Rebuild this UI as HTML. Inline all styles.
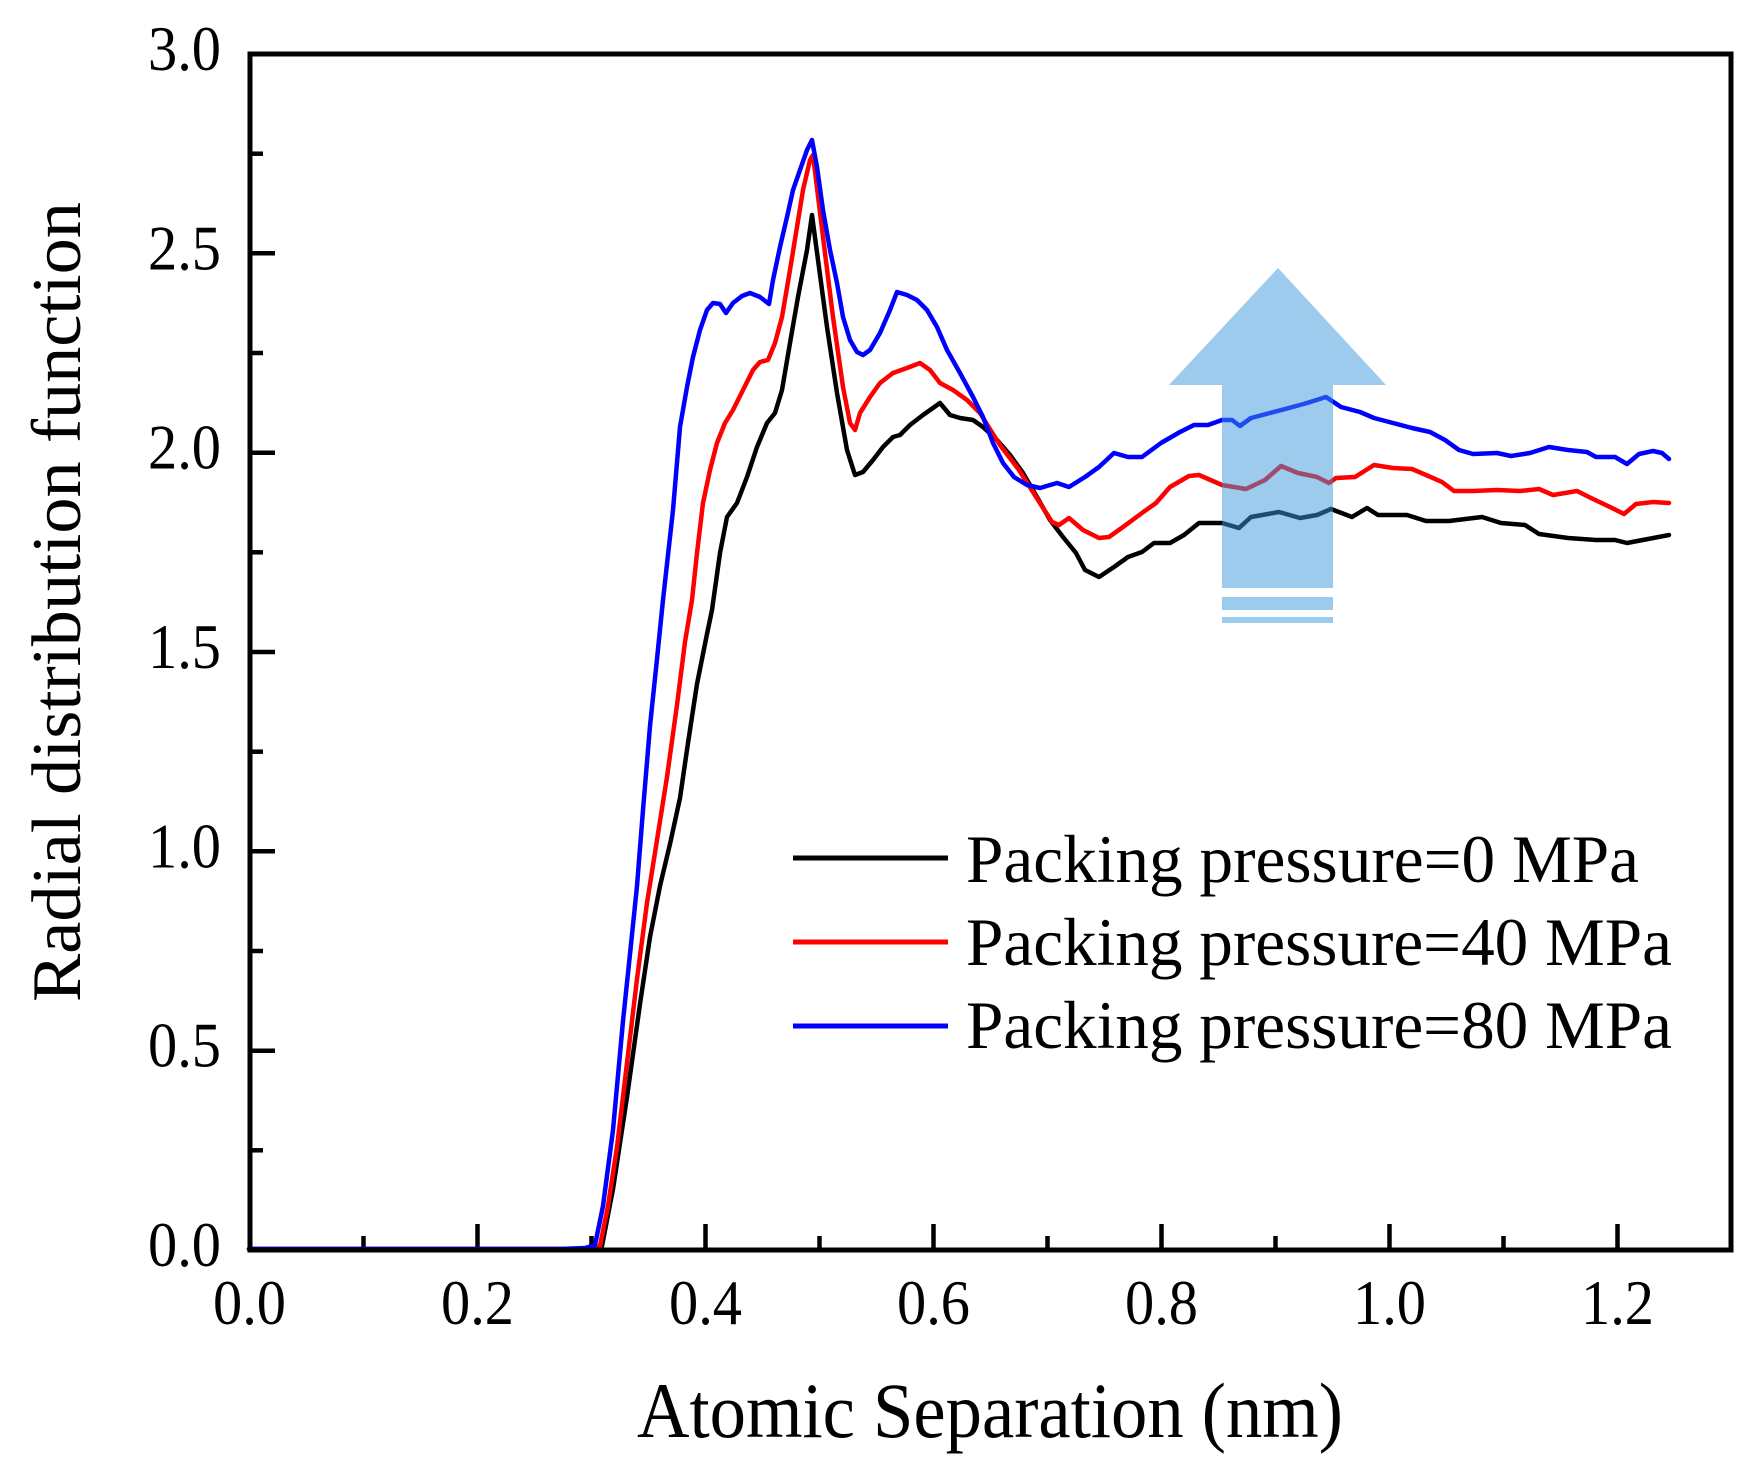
<!DOCTYPE html>
<html>
<head>
<meta charset="utf-8">
<style>
  html, body { margin: 0; padding: 0; background: #ffffff; }
  svg { display: block; }
  text { font-family: "Liberation Serif", "Times New Roman", serif; fill: #000; }
</style>
</head>
<body>
<svg width="1748" height="1476" viewBox="0 0 1748 1476" xmlns="http://www.w3.org/2000/svg">
  <rect x="0" y="0" width="1748" height="1476" fill="#ffffff"/>

  <!-- Y ticks (major) -->
  <g stroke="#000" stroke-width="4.5">
    <line x1="250" y1="54" x2="275" y2="54"/>
    <line x1="250" y1="253.3" x2="275" y2="253.3"/>
    <line x1="250" y1="452.7" x2="275" y2="452.7"/>
    <line x1="250" y1="652" x2="275" y2="652"/>
    <line x1="250" y1="851.3" x2="275" y2="851.3"/>
    <line x1="250" y1="1050.7" x2="275" y2="1050.7"/>
    <!-- minor -->
    <line x1="250" y1="153.7" x2="263" y2="153.7"/>
    <line x1="250" y1="353" x2="263" y2="353"/>
    <line x1="250" y1="552.3" x2="263" y2="552.3"/>
    <line x1="250" y1="751.7" x2="263" y2="751.7"/>
    <line x1="250" y1="951" x2="263" y2="951"/>
    <line x1="250" y1="1150.3" x2="263" y2="1150.3"/>
  </g>
  <!-- X ticks -->
  <g stroke="#000" stroke-width="4.5">
    <line x1="477.5" y1="1250" x2="477.5" y2="1224"/>
    <line x1="705.5" y1="1250" x2="705.5" y2="1224"/>
    <line x1="933.5" y1="1250" x2="933.5" y2="1224"/>
    <line x1="1161.5" y1="1250" x2="1161.5" y2="1224"/>
    <line x1="1389.5" y1="1250" x2="1389.5" y2="1224"/>
    <line x1="1617.5" y1="1250" x2="1617.5" y2="1224"/>
    <line x1="363.5" y1="1250" x2="363.5" y2="1236"/>
    <line x1="591.5" y1="1250" x2="591.5" y2="1236"/>
    <line x1="819.5" y1="1250" x2="819.5" y2="1236"/>
    <line x1="1047.5" y1="1250" x2="1047.5" y2="1236"/>
    <line x1="1275.5" y1="1250" x2="1275.5" y2="1236"/>
    <line x1="1503.5" y1="1250" x2="1503.5" y2="1236"/>
  </g>

  <!-- Series -->
  <g fill="none" stroke-width="4.5" stroke-linejoin="round" stroke-linecap="round">
    <polyline stroke="#000000" points="249,1249 575,1249 592,1248 602,1246 613,1189 627,1097 640,1004 650,937 660,886 670,844 680,798 688,743 697,684 707,634 712,610 720,553 727,517 737,503 747,477 757,447 767,423 775,413 782,390 790,343 798,297 807,250 812,215 818,260 827,327 837,393 847,450 855,475 863,472 873,460 883,447 893,437 900,435 910,425 923,415 940,403 950,415 960,418 973,420 983,427 997,440 1010,455 1023,473 1037,497 1050,520 1063,537 1076,553 1085,570 1099,577 1114,567 1128,557 1142,552 1154,543 1170,543 1184,535 1199,523 1222,523 1239,528 1251,517 1279,512 1300,518 1317,515 1331,509 1352,517 1367,508 1378,515 1407,515 1426,521 1449,521 1482,517 1501,523 1525,525 1539,534 1568,538 1596,540 1615,540 1627,543 1648,539 1669,535"/>
    <polyline stroke="#ff0000" points="249,1249 570,1249 590,1248 600,1246 608,1206 617,1147 627,1063 637,979 647,903 657,840 667,777 677,705 685,642 692,600 697,553 703,503 710,470 717,443 725,423 733,410 743,390 753,370 760,362 768,360 775,343 782,317 790,270 797,227 803,190 810,160 813,155 823,237 833,317 843,387 850,423 855,430 860,413 870,397 880,383 893,373 907,368 920,363 930,370 940,383 953,390 967,400 980,413 993,434 1000,445 1019,470 1038,500 1052,522 1059,525 1069,518 1083,530 1099,538 1109,537 1123,527 1142,513 1156,503 1170,487 1189,476 1199,475 1222,485 1246,489 1265,480 1281,466 1298,473 1317,477 1329,483 1336,478 1355,477 1374,465 1393,468 1412,469 1426,475 1442,482 1454,491 1473,491 1497,490 1520,491 1539,489 1553,495 1577,491 1591,498 1610,507 1624,514 1636,504 1653,502 1669,503"/>
    <polyline stroke="#0000ff" points="249,1249 560,1249 585,1248 595,1245 603,1206 613,1130 623,1021 630,954 637,886 643,810 650,726 657,659 663,600 673,510 680,427 687,387 693,357 700,330 707,310 713,303 720,304 726,313 733,303 742,296 750,293 760,297 769,304 773,280 780,247 787,217 793,190 800,170 807,150 812,140 817,167 823,210 830,250 837,283 843,317 850,340 857,352 863,355 870,350 880,333 890,310 897,292 907,295 917,300 927,310 937,327 947,350 960,373 973,397 983,417 993,443 1003,463 1014,477 1027,485 1040,488 1057,483 1069,487 1085,477 1099,467 1114,453 1128,457 1142,457 1161,443 1180,432 1194,425 1208,425 1222,420 1232,420 1240,426 1251,418 1270,413 1289,408 1307,403 1326,397 1341,407 1360,412 1374,418 1393,423 1412,428 1430,432 1445,440 1459,450 1473,454 1497,453 1511,456 1530,453 1549,447 1568,450 1587,452 1596,457 1615,457 1627,464 1639,454 1653,451 1662,453 1669,459"/>
  </g>

  <!-- Arrow -->
  <g fill="rgb(59,151,221)" fill-opacity="0.5">
    <polygon points="1278,268 1386,385 1333,385 1333,588 1222,588 1222,385 1169,385"/>
    <rect x="1222" y="597" width="111" height="13"/>
    <rect x="1222" y="617" width="111" height="6"/>
  </g>

  <!-- Frame -->
  <rect x="250" y="54" width="1481" height="1196" fill="none" stroke="#000" stroke-width="5"/>

  <!-- Y tick labels -->
  <g font-size="63" text-anchor="end">
    <text x="221" y="70" textLength="73" lengthAdjust="spacingAndGlyphs">3.0</text>
    <text x="221" y="269.3" textLength="73" lengthAdjust="spacingAndGlyphs">2.5</text>
    <text x="221" y="468.7" textLength="73" lengthAdjust="spacingAndGlyphs">2.0</text>
    <text x="221" y="668" textLength="73" lengthAdjust="spacingAndGlyphs">1.5</text>
    <text x="221" y="867.3" textLength="73" lengthAdjust="spacingAndGlyphs">1.0</text>
    <text x="221" y="1066.7" textLength="73" lengthAdjust="spacingAndGlyphs">0.5</text>
    <text x="221" y="1266" textLength="73" lengthAdjust="spacingAndGlyphs">0.0</text>
  </g>

  <!-- X tick labels -->
  <g font-size="63" text-anchor="middle">
    <text x="249.5" y="1324" textLength="73" lengthAdjust="spacingAndGlyphs">0.0</text>
    <text x="477.5" y="1324" textLength="73" lengthAdjust="spacingAndGlyphs">0.2</text>
    <text x="705.5" y="1324" textLength="73" lengthAdjust="spacingAndGlyphs">0.4</text>
    <text x="933.5" y="1324" textLength="73" lengthAdjust="spacingAndGlyphs">0.6</text>
    <text x="1161.5" y="1324" textLength="73" lengthAdjust="spacingAndGlyphs">0.8</text>
    <text x="1389.5" y="1324" textLength="73" lengthAdjust="spacingAndGlyphs">1.0</text>
    <text x="1617.5" y="1324" textLength="73" lengthAdjust="spacingAndGlyphs">1.2</text>
  </g>

  <!-- Axis titles -->
  <text x="990" y="1437" font-size="78" text-anchor="middle" textLength="706" lengthAdjust="spacingAndGlyphs">Atomic Separation (nm)</text>
  <text transform="translate(80,602) rotate(-90)" x="0" y="0" font-size="70" text-anchor="middle" textLength="800" lengthAdjust="spacingAndGlyphs">Radial distribution function</text>

  <!-- Legend -->
  <g stroke-width="5">
    <line x1="793" y1="858" x2="948" y2="858" stroke="#000000"/>
    <line x1="793" y1="942" x2="948" y2="942" stroke="#ff0000"/>
    <line x1="793" y1="1026" x2="948" y2="1026" stroke="#0000ff"/>
  </g>
  <g font-size="68">
    <text x="966" y="882" textLength="673" lengthAdjust="spacingAndGlyphs">Packing pressure=0 MPa</text>
    <text x="966" y="965" textLength="706" lengthAdjust="spacingAndGlyphs">Packing pressure=40 MPa</text>
    <text x="966" y="1048" textLength="706" lengthAdjust="spacingAndGlyphs">Packing pressure=80 MPa</text>
  </g>
</svg>
</body>
</html>
